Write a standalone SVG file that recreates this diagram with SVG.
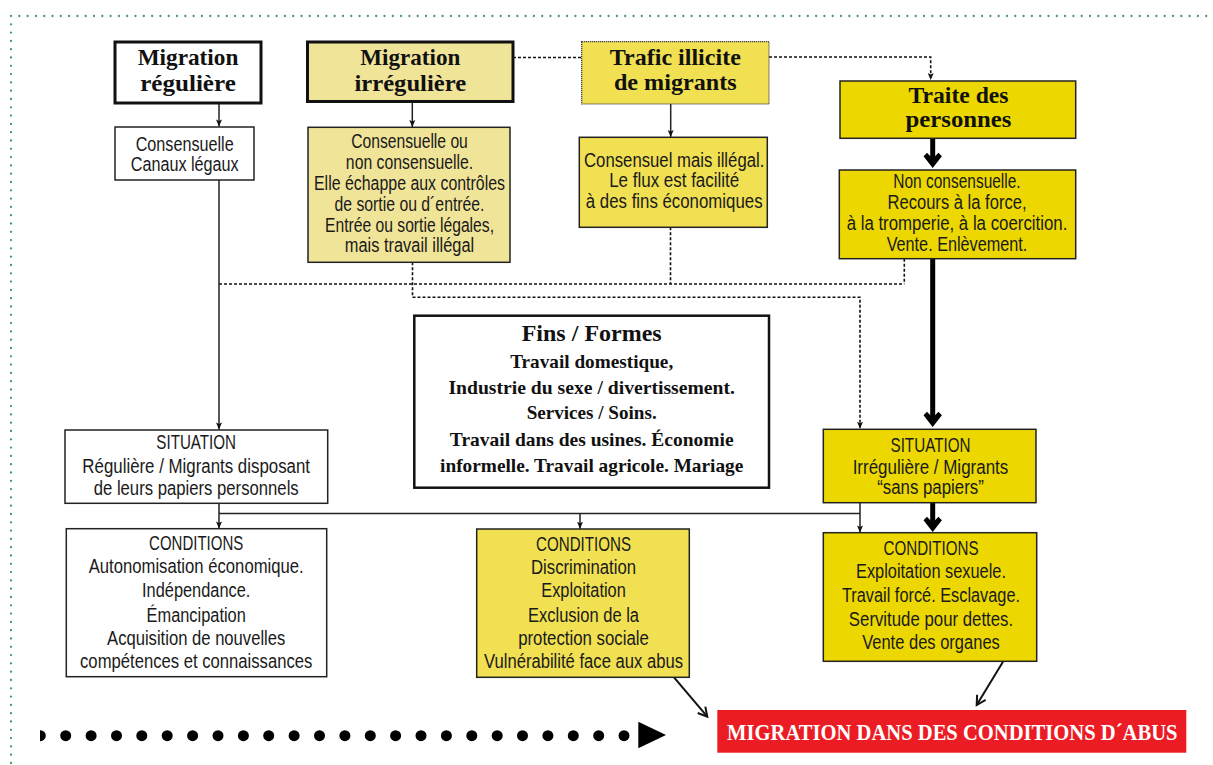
<svg xmlns="http://www.w3.org/2000/svg" width="1213" height="765" viewBox="0 0 1213 765">
<style>
.h{font-family:"Liberation Serif","Times New Roman",serif;font-weight:bold;font-size:24px;fill:#111;text-anchor:middle}
.c{font-family:"Liberation Sans",Arial,sans-serif;font-size:19.5px;fill:#1a1a1a;text-anchor:middle}
.f{font-family:"Liberation Serif","Times New Roman",serif;font-weight:bold;font-size:19.5px;fill:#111;text-anchor:middle}
.ff{font-family:"Liberation Serif","Times New Roman",serif;font-weight:bold;font-size:24px;fill:#111;text-anchor:middle}
.rt{font-family:"Liberation Serif","Times New Roman",serif;font-weight:bold;font-size:24px;fill:#fff;text-anchor:middle}
.box{stroke:#222;stroke-width:1.5}
.thick{stroke:#111;stroke-width:3}
.w{fill:#fff}
.k{fill:#f0e498}
.y1{fill:#f1e052}
.y2{fill:#ecd800}
.ln{fill:none;stroke:#222;stroke-width:1.5}
.ds{fill:none;stroke:#111;stroke-width:1.6;stroke-dasharray:3 2}
.tk{fill:none;stroke:#000;stroke-width:5}
.dg{fill:none;stroke:#111;stroke-width:2}
</style>
<defs>
<marker id="a" markerUnits="userSpaceOnUse" markerWidth="8" markerHeight="8" refX="7" refY="3" orient="auto" overflow="visible">
<path d="M0,0 L7,3 L0,6 L1.5,3 Z" fill="#111"/>
</marker>
<marker id="o" markerUnits="userSpaceOnUse" markerWidth="12" markerHeight="12" refX="9" refY="5" orient="auto" overflow="visible">
<path d="M0,0 L9,5 L0,10" fill="none" stroke="#111" stroke-width="2"/>
</marker>
<path id="chev" d="M-9.2,-11.7 L-5.7,-15.2 L0,-9.2 L5.7,-15.2 L9.2,-11.7 L0,0 Z" fill="#000"/>
<clipPath id="cl"><rect x="40" y="720" width="20" height="30"/></clipPath>
</defs>

<g id="border">
<path d="M11,16 H1213 M11,16 V765" fill="none" stroke="#3f9b63" stroke-width="2.3" stroke-dasharray="0 8.3" stroke-linecap="round"/>
</g>

<g id="connectors">
<line class="ln" x1="219" y1="103" x2="219" y2="126.5" marker-end="url(#a)"/>
<line class="ln" x1="412.3" y1="101.5" x2="412.3" y2="127" marker-end="url(#a)"/>
<line class="ln" x1="670.7" y1="104" x2="670.7" y2="137" marker-end="url(#a)"/>
<line class="ln" x1="219" y1="180" x2="219" y2="429.5" marker-end="url(#a)"/>
<line class="ln" x1="219" y1="503.3" x2="219" y2="528.5" marker-end="url(#a)"/>
<line class="ln" x1="219" y1="513.5" x2="860" y2="513.5"/>
<line class="ln" x1="580" y1="513.5" x2="580" y2="528.8" marker-end="url(#a)"/>
<line class="ln" x1="860" y1="502.7" x2="860" y2="532.5" marker-end="url(#a)"/>
<line class="ds" x1="513" y1="57.5" x2="581.7" y2="57.5"/>
<path class="ds" d="M769,57 H930.7 V80" marker-end="url(#a)"/>
<line class="ds" x1="670.5" y1="227.3" x2="670.5" y2="284"/>
<line class="ds" x1="904.3" y1="258.7" x2="904.3" y2="284"/>
<line class="ds" x1="219" y1="284" x2="904.3" y2="284"/>
<path class="ds" d="M412.5,262.3 V297.3 H860 V428.8" marker-end="url(#a)"/>
<line class="tk" x1="932.7" y1="138.3" x2="932.7" y2="160"/>
<use href="#chev" x="932.7" y="168"/>
<line class="tk" x1="932.7" y1="258.7" x2="932.7" y2="419"/>
<use href="#chev" x="932.7" y="427"/>
<line class="tk" x1="932.7" y1="502.7" x2="932.7" y2="524"/>
<use href="#chev" x="932.7" y="532"/>
<line class="dg" x1="674" y1="677.3" x2="707.3" y2="716.7" marker-end="url(#o)"/>
<line class="dg" x1="1003.3" y1="661.3" x2="976.7" y2="705" marker-end="url(#o)"/>
</g>

<g id="n-reguliere">
<rect class="w thick" x="115" y="42" width="146" height="61"/>
<text class="h" x="188" y="65" textLength="100.7" lengthAdjust="spacingAndGlyphs">Migration</text>
<text class="h" x="188" y="91" textLength="95.7" lengthAdjust="spacingAndGlyphs">régulière</text>
</g>

<g id="n-consensuelle">
<rect class="w box" x="115" y="127" width="139" height="53"/>
<text class="c" x="184.7" y="150.7" textLength="98" lengthAdjust="spacingAndGlyphs">Consensuelle</text>
<text class="c" x="184.7" y="170.7" textLength="108" lengthAdjust="spacingAndGlyphs">Canaux légaux</text>
</g>

<g id="n-irreguliere">
<rect class="k thick" x="307.5" y="42" width="205.5" height="59.5"/>
<text class="h" x="410.3" y="65" textLength="100" lengthAdjust="spacingAndGlyphs">Migration</text>
<text class="h" x="410.3" y="91" textLength="111.7" lengthAdjust="spacingAndGlyphs">irrégulière</text>
</g>

<g id="n-irr-desc">
<rect class="k box" x="308" y="127.3" width="202" height="135"/>
<text class="c" x="409.5" y="148.3" textLength="116.7" lengthAdjust="spacingAndGlyphs">Consensuelle ou</text>
<text class="c" x="409.5" y="169" textLength="127.3" lengthAdjust="spacingAndGlyphs">non consensuelle.</text>
<text class="c" x="409.5" y="190" textLength="191" lengthAdjust="spacingAndGlyphs">Elle échappe aux contrôles</text>
<text class="c" x="409.5" y="210.7" textLength="150" lengthAdjust="spacingAndGlyphs">de sortie ou d´entrée.</text>
<text class="c" x="409.5" y="231.7" textLength="169" lengthAdjust="spacingAndGlyphs">Entrée ou sortie légales,</text>
<text class="c" x="409.5" y="252.3" textLength="129.3" lengthAdjust="spacingAndGlyphs">mais travail illégal</text>
</g>

<g id="n-trafic">
<rect class="y1" x="581.7" y="41.7" width="187.3" height="62.3" stroke="#333" stroke-width="1.2" stroke-dasharray="1.2 0.8"/>
<text class="h" x="675.3" y="65" textLength="131" lengthAdjust="spacingAndGlyphs">Trafic illicite</text>
<text class="h" x="675.3" y="90" textLength="122.7" lengthAdjust="spacingAndGlyphs">de migrants</text>
</g>

<g id="n-trafic-desc">
<rect class="y1 box" x="579.3" y="137.3" width="188" height="90"/>
<text class="c" x="674.2" y="166.7" textLength="180.3" lengthAdjust="spacingAndGlyphs">Consensuel mais illégal.</text>
<text class="c" x="674.2" y="187.3" textLength="130" lengthAdjust="spacingAndGlyphs">Le flux est facilité</text>
<text class="c" x="674.2" y="208.3" textLength="176.7" lengthAdjust="spacingAndGlyphs">à des fins économiques</text>
</g>

<g id="n-traite">
<rect class="y2 box" x="840" y="81" width="235.7" height="57.3"/>
<text class="h" x="958.5" y="103.3" textLength="100" lengthAdjust="spacingAndGlyphs">Traite des</text>
<text class="h" x="958.5" y="126.7" textLength="106" lengthAdjust="spacingAndGlyphs">personnes</text>
</g>

<g id="n-traite-desc">
<rect class="y2 box" x="839.3" y="170" width="236.4" height="88.7"/>
<text class="c" x="957" y="188.3" textLength="127.3" lengthAdjust="spacingAndGlyphs">Non consensuelle.</text>
<text class="c" x="957" y="209.3" textLength="139" lengthAdjust="spacingAndGlyphs">Recours à la force,</text>
<text class="c" x="957" y="230" textLength="220.7" lengthAdjust="spacingAndGlyphs">à la tromperie, à la coercition.</text>
<text class="c" x="957" y="250.7" textLength="140.7" lengthAdjust="spacingAndGlyphs">Vente. Enlèvement.</text>
</g>

<g id="n-fins">
<rect class="w" x="414.3" y="315.7" width="354.7" height="172" stroke="#111" stroke-width="2.5"/>
<text class="ff" x="591.7" y="340.5" textLength="140" lengthAdjust="spacingAndGlyphs">Fins / Formes</text>
<text class="f" x="591.7" y="368.3" textLength="163" lengthAdjust="spacingAndGlyphs">Travail domestique,</text>
<text class="f" x="591.7" y="394" textLength="286.5" lengthAdjust="spacingAndGlyphs">Industrie du sexe / divertissement.</text>
<text class="f" x="591.7" y="419" textLength="130" lengthAdjust="spacingAndGlyphs">Services / Soins.</text>
<text class="f" x="591.7" y="446" textLength="283.7" lengthAdjust="spacingAndGlyphs">Travail dans des usines. Économie</text>
<text class="f" x="591.7" y="472.3" textLength="303.3" lengthAdjust="spacingAndGlyphs">informelle. Travail agricole. Mariage</text>
</g>

<g id="n-situation-reg">
<rect class="w box" x="65" y="430" width="262.7" height="73.3"/>
<text class="c" x="196.2" y="449" textLength="79.7" lengthAdjust="spacingAndGlyphs">SITUATION</text>
<text class="c" x="196.2" y="472.7" textLength="227.7" lengthAdjust="spacingAndGlyphs">Régulière / Migrants disposant</text>
<text class="c" x="196.2" y="495" textLength="205" lengthAdjust="spacingAndGlyphs">de leurs papiers personnels</text>
</g>

<g id="n-situation-irr">
<rect class="y2 box" x="823.3" y="429.3" width="212.7" height="73.4"/>
<text class="c" x="930.5" y="451.7" textLength="80" lengthAdjust="spacingAndGlyphs">SITUATION</text>
<text class="c" x="930.5" y="474" textLength="155.7" lengthAdjust="spacingAndGlyphs">Irrégulière / Migrants</text>
<text class="c" x="930.5" y="494" textLength="106.7" lengthAdjust="spacingAndGlyphs">“sans papiers”</text>
</g>

<g id="n-cond-reg">
<rect class="w box" x="66.3" y="528.7" width="260.4" height="148"/>
<text class="c" x="196.2" y="550" textLength="94.3" lengthAdjust="spacingAndGlyphs">CONDITIONS</text>
<text class="c" x="196.2" y="573.3" textLength="215" lengthAdjust="spacingAndGlyphs">Autonomisation économique.</text>
<text class="c" x="196.2" y="597.3" textLength="108.3" lengthAdjust="spacingAndGlyphs">Indépendance.</text>
<text class="c" x="196.2" y="621.7" textLength="99.3" lengthAdjust="spacingAndGlyphs">Émancipation</text>
<text class="c" x="196.2" y="645" textLength="178.3" lengthAdjust="spacingAndGlyphs">Acquisition de nouvelles</text>
<text class="c" x="196.2" y="668.3" textLength="232.3" lengthAdjust="spacingAndGlyphs">compétences et connaissances</text>
</g>

<g id="n-cond-irr">
<rect class="y1 box" x="476.7" y="529" width="212.6" height="148.3"/>
<text class="c" x="583.5" y="550.7" textLength="95" lengthAdjust="spacingAndGlyphs">CONDITIONS</text>
<text class="c" x="583.5" y="574" textLength="105" lengthAdjust="spacingAndGlyphs">Discrimination</text>
<text class="c" x="583.5" y="597.3" textLength="84.5" lengthAdjust="spacingAndGlyphs">Exploitation</text>
<text class="c" x="583.5" y="621.7" textLength="111" lengthAdjust="spacingAndGlyphs">Exclusion de la</text>
<text class="c" x="583.5" y="645" textLength="130.7" lengthAdjust="spacingAndGlyphs">protection sociale</text>
<text class="c" x="583.5" y="668.3" textLength="199" lengthAdjust="spacingAndGlyphs">Vulnérabilité face aux abus</text>
</g>

<g id="n-cond-traite">
<rect class="y2 box" x="823.3" y="532.7" width="213.4" height="128.6"/>
<text class="c" x="931" y="555" textLength="95" lengthAdjust="spacingAndGlyphs">CONDITIONS</text>
<text class="c" x="931" y="578.3" textLength="150" lengthAdjust="spacingAndGlyphs">Exploitation sexuele.</text>
<text class="c" x="931" y="601.7" textLength="178" lengthAdjust="spacingAndGlyphs">Travail forcé. Esclavage.</text>
<text class="c" x="931" y="626" textLength="164.3" lengthAdjust="spacingAndGlyphs">Servitude pour dettes.</text>
<text class="c" x="931" y="649.3" textLength="137.7" lengthAdjust="spacingAndGlyphs">Vente des organes</text>
</g>

<g id="n-abus">
<rect x="717.3" y="710" width="469" height="42.7" fill="#ec1c24"/>
<text class="rt" transform="translate(952.3,740) scale(0.858,1)" x="0" y="0">MIGRATION DANS DES CONDITIONS D´ABUS</text>
</g>

<g id="dotted-arrow" fill="#000">
<circle cx="40.3" cy="735.7" r="5.5" clip-path="url(#cl)"/>
<circle cx="65.7" cy="735.7" r="5.5"/><circle cx="91.1" cy="735.7" r="5.5"/><circle cx="116.5" cy="735.7" r="5.5"/><circle cx="141.8" cy="735.7" r="5.5"/><circle cx="167.2" cy="735.7" r="5.5"/><circle cx="192.6" cy="735.7" r="5.5"/><circle cx="218" cy="735.7" r="5.5"/><circle cx="243.4" cy="735.7" r="5.5"/><circle cx="268.7" cy="735.7" r="5.5"/><circle cx="294.1" cy="735.7" r="5.5"/><circle cx="319.5" cy="735.7" r="5.5"/><circle cx="344.9" cy="735.7" r="5.5"/><circle cx="370.3" cy="735.7" r="5.5"/><circle cx="395.6" cy="735.7" r="5.5"/><circle cx="421" cy="735.7" r="5.5"/><circle cx="446.4" cy="735.7" r="5.5"/><circle cx="471.8" cy="735.7" r="5.5"/><circle cx="497.2" cy="735.7" r="5.5"/><circle cx="522.5" cy="735.7" r="5.5"/><circle cx="547.9" cy="735.7" r="5.5"/><circle cx="573.3" cy="735.7" r="5.5"/><circle cx="598.7" cy="735.7" r="5.5"/><circle cx="624" cy="735.7" r="5.5"/>
<polygon points="638.3,721.7 666,735 638.3,748.3"/>
</g>
</svg>
